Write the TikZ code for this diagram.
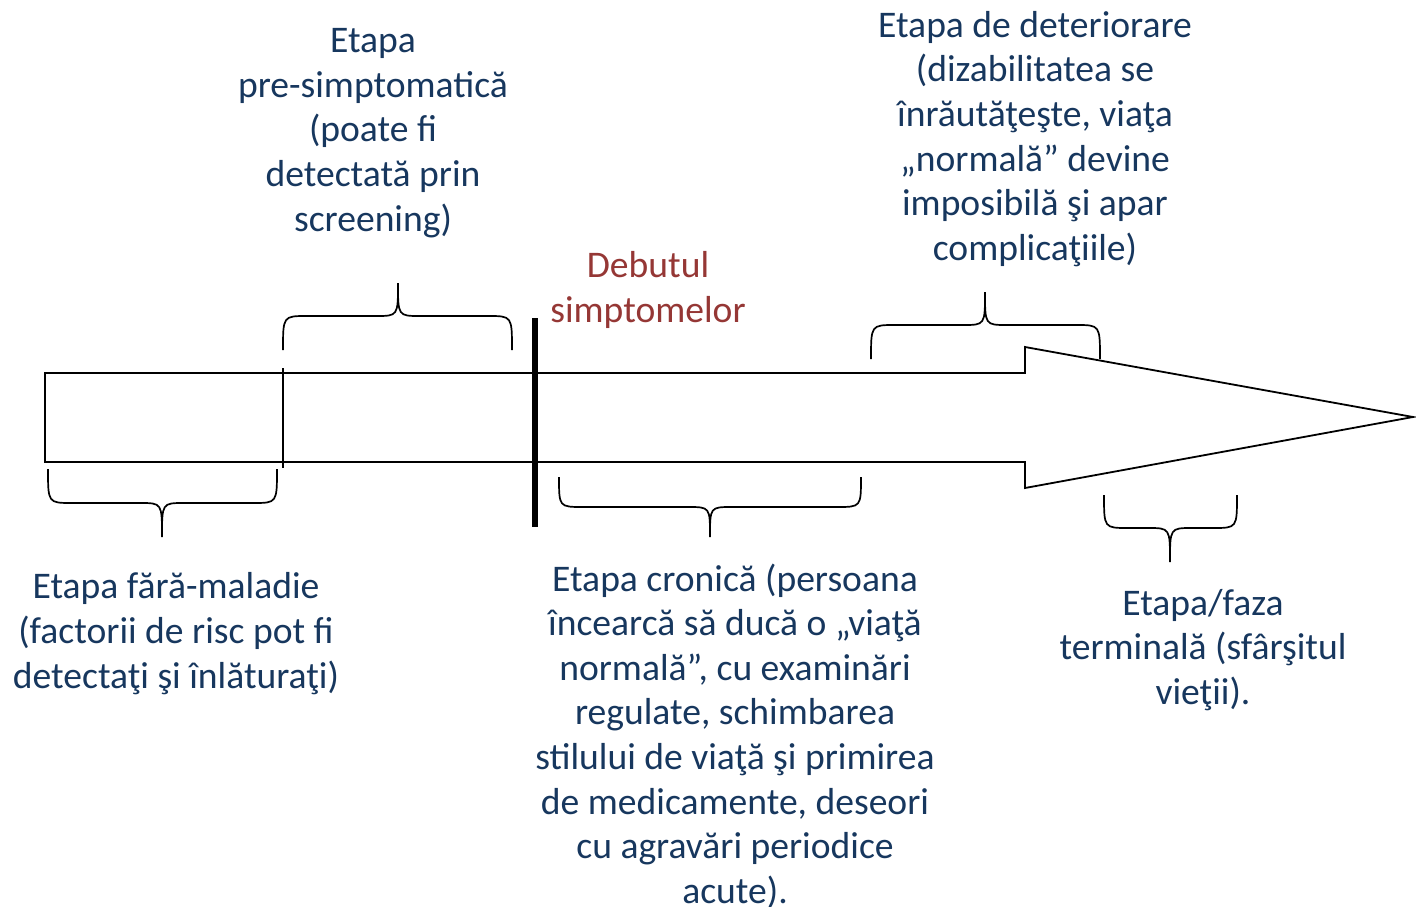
\documentclass[tikz,border=0pt]{standalone}
\usepackage{fontspec}
\setmainfont{Carlito}
\definecolor{txtblue}{HTML}{17375E}
\definecolor{txtred}{HTML}{953735}
\newcommand\mybrace[6]{% x1 x2 xc yend yflat ytip
  \draw[brc] (#1,#4) .. controls (#1,#5) .. (#1+24,#5) -- (#3-22,#5)
    .. controls (#3,#5) .. (#3,#6) .. controls (#3,#5) .. (#3+22,#5)
    -- (#2-24,#5) .. controls (#2,#5) .. (#2,#4);}
\begin{document}
\begin{tikzpicture}[x=1pt,y=-1pt,
  lbl/.style={font=\fontsize{37.6}{44.6}\selectfont, text=txtblue, align=center, inner sep=0pt},
  redlbl/.style={lbl, text=txtred},
  brc/.style={draw=black, line width=1.7pt},
  outline/.style={draw=black, line width=1.8pt, line join=miter}]
\useasboundingbox (0,0) rectangle (1416,907);
% arrow
\draw[outline] (45,373) -- (1025,373) -- (1025,347) -- (1413,417) -- (1025,488) -- (1025,462) -- (45,462) -- cycle;
\coordinate (d1) at (283,368);
\coordinate (d2) at (283,468);
\draw[line width=1.4pt] (d1) -- (d2);
\coordinate (t1) at (535,318);
\coordinate (t2) at (535,527);
\draw[line width=5.5pt] (t1) -- (t2);
% braces
\mybrace{283}{512}{398}{350}{316}{283}
\mybrace{871}{1100}{985}{359}{325}{292}
\mybrace{48}{277}{162}{469}{503}{537}
\mybrace{559}{861}{710}{477}{507}{537}
\mybrace{1104}{1237}{1170}{495}{528}{562}
% labels
\node[lbl] (pre) at (373,133) {Etapa\\pre-simptomatică\\(poate fi\\detectată prin\\screening)};
\node[lbl] (det) at (1035,139) {Etapa de deteriorare\\(dizabilitatea se\\înrăutăţeşte, viaţa\\„normală” devine\\imposibilă şi apar\\complicaţiile)};
\node[redlbl] (deb) at (648,290) {Debutul\\simptomelor};
\node[lbl] (fara) at (176,633.5) {Etapa fără-maladie\\(factorii de risc pot fi\\detectaţi şi înlăturaţi)};
\node[lbl] (cron) at (735,736) {Etapa cronică (persoana\\încearcă să ducă o „viaţă\\normală”, cu examinări\\regulate, schimbarea\\stilului de viaţă şi primirea\\de medicamente, deseori\\cu agravări periodice\\acute).};
\node[lbl] (term) at (1203,650) {Etapa/faza\\terminală (sfârşitul\\vieţii).};
\end{tikzpicture}
\end{document}
